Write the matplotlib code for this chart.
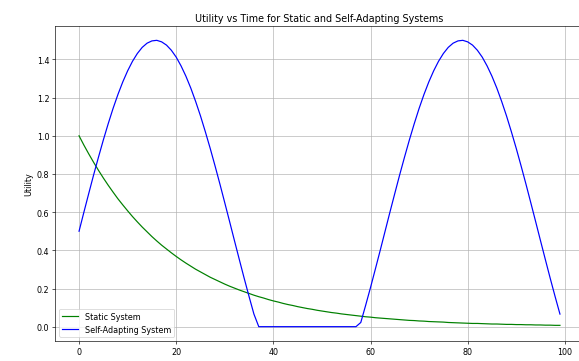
import matplotlib
matplotlib.use("Agg")
import matplotlib.pyplot as plt

time = list(range(100))

static_utility = [
    1.000, 0.951, 0.905, 0.861, 0.819, 0.779, 0.741, 0.705, 0.670, 0.638,
    0.607, 0.577, 0.549, 0.522, 0.497, 0.472, 0.449, 0.427, 0.407, 0.387,
    0.368, 0.350, 0.333, 0.317, 0.301, 0.287, 0.273, 0.259, 0.247, 0.235,
    0.223, 0.212, 0.202, 0.192, 0.183, 0.174, 0.165, 0.157, 0.150, 0.142,
    0.135, 0.129, 0.122, 0.116, 0.111, 0.105, 0.100, 0.095, 0.091, 0.086,
    0.082, 0.078, 0.074, 0.071, 0.067, 0.064, 0.061, 0.058, 0.055, 0.052,
    0.050, 0.047, 0.045, 0.043, 0.041, 0.039, 0.037, 0.035, 0.033, 0.032,
    0.030, 0.029, 0.027, 0.026, 0.025, 0.024, 0.022, 0.021, 0.020, 0.019,
    0.018, 0.017, 0.017, 0.016, 0.015, 0.014, 0.014, 0.013, 0.012, 0.012,
    0.011, 0.011, 0.010, 0.010, 0.009, 0.009, 0.008, 0.008, 0.007, 0.007,
]

adaptive_utility = [
    0.500, 0.600, 0.698, 0.795, 0.888, 0.978, 1.063, 1.143, 1.216, 1.282,
    1.340, 1.390, 1.431, 1.463, 1.485, 1.497, 1.500, 1.492, 1.475, 1.448,
    1.412, 1.366, 1.312, 1.250, 1.180, 1.104, 1.021, 0.934, 0.842, 0.747,
    0.649, 0.550, 0.450, 0.351, 0.253, 0.158, 0.066, 0.000, 0.000, 0.000,
    0.000, 0.000, 0.000, 0.000, 0.000, 0.000, 0.000, 0.000, 0.000, 0.000,
    0.000, 0.000, 0.000, 0.000, 0.000, 0.000, 0.000, 0.000, 0.022, 0.112,
    0.205, 0.302, 0.400, 0.500, 0.600, 0.698, 0.795, 0.888, 0.978, 1.063,
    1.143, 1.216, 1.282, 1.340, 1.390, 1.431, 1.463, 1.485, 1.497, 1.500,
    1.492, 1.475, 1.448, 1.412, 1.366, 1.312, 1.250, 1.180, 1.104, 1.021,
    0.934, 0.842, 0.747, 0.649, 0.550, 0.450, 0.351, 0.253, 0.158, 0.066,
]

fig = plt.figure(figsize=(10, 6.252), dpi=57.9)
ax = fig.add_axes([55 / 579, 20 / 362, (584 - 55) / 579, (342 - 27) / 362])
ax.plot(time, static_utility, color="green", label="Static System", linewidth=1.5)
ax.plot(time, adaptive_utility, color="blue", label="Self-Adapting System", linewidth=1.5)
ax.set_title("Utility vs Time for Static and Self-Adapting Systems")
ax.set_ylabel("Utility")
ax.grid(True)
ax.legend(loc="lower left")
fig.savefig("out.png", dpi=57.9)
